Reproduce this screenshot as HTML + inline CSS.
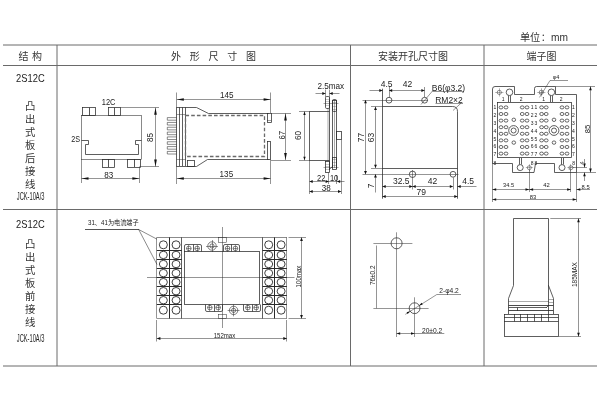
<!DOCTYPE html>
<html lang="zh-CN">
<head>
<meta charset="utf-8">
<title>2S12C 外形尺寸图</title>
<style>
html,body{margin:0;padding:0;background:#fff;}
body{width:600px;height:400px;overflow:hidden;}
svg{display:block;filter:grayscale(1);}
text{font-family:"Liberation Sans","Noto Sans CJK SC",sans-serif;fill:#222;stroke:none;}
.cn text{fill:#333;}
.lt text{fill:#222;}
.dt text{fill:#222;}
.st text{fill:#1a1a1a;}
.ar{fill:#111;stroke:none;}
</style>
</head>
<body>
<svg width="600" height="400" viewBox="0 0 600 400">
<rect x="0" y="0" width="600" height="400" fill="#fff"/>
<g stroke="#6a6a6a" stroke-width="1" fill="none">
<line x1="3" y1="45" x2="597" y2="45"/>
<line x1="3" y1="65.5" x2="597" y2="65.5"/>
<line x1="3" y1="209.5" x2="597" y2="209.5"/>
<line x1="3" y1="366" x2="597" y2="366"/>
<line x1="57" y1="45" x2="57" y2="366"/>
<line x1="350.5" y1="45" x2="350.5" y2="366"/>
<line x1="484" y1="45" x2="484" y2="366"/>
</g>
<g class="cn">
<text x="519.9" y="41" font-size="10.2" text-anchor="start">单位<tspan dx="0.5">：mm</tspan></text>
<text x="18.4" y="59.8" font-size="10" text-anchor="start" letter-spacing="0.41">结 构</text>
<text x="171.1" y="59.8" font-size="10" text-anchor="start" letter-spacing="2.96">外 形 尺 寸 图</text>
<text x="413" y="59.8" font-size="10" text-anchor="middle">安装开孔尺寸图</text>
<text x="541.6" y="59.8" font-size="10" text-anchor="middle">端子图</text>
<text x="30.3 30.3 30.3 30.3 30.3 30.3 30.3" y="110 122.93 135.86 148.79 161.72 174.65 187.58" font-size="10.4" text-anchor="middle">凸出式板后接线</text>
<text x="30.3 30.3 30.3 30.3 30.3 30.3 30.3" y="248 260.95 273.9 286.85 299.8 312.75 325.7" font-size="10.4" text-anchor="middle">凸出式板前接线</text>
</g>
<g class="lt">
<text x="30.4" y="81.9" font-size="10.7" text-anchor="middle" textLength="28.6" lengthAdjust="spacingAndGlyphs">2S12C</text>
<text x="30.4" y="227.6" font-size="10.7" text-anchor="middle" textLength="28.6" lengthAdjust="spacingAndGlyphs">2S12C</text>
<text x="30.6" y="199.7" font-size="10.5" text-anchor="middle" textLength="27.6" lengthAdjust="spacingAndGlyphs">JCK-10A/3</text>
<text x="30.6" y="342.4" font-size="10.5" text-anchor="middle" textLength="27.6" lengthAdjust="spacingAndGlyphs">JCK-10A/3</text>
</g>
<g stroke="#2a2a2a" stroke-width="0.75" fill="none">
<rect x="81.5" y="115.5" width="60" height="44" stroke-width="0.55"/>
<rect x="82.5" y="107.5" width="13" height="8"/>
<line x1="89.5" y1="107.7" x2="89.5" y2="115.5" stroke-width="0.8"/>
<rect x="108.5" y="107.5" width="12" height="8"/>
<line x1="114.5" y1="107.7" x2="114.5" y2="115.5" stroke-width="0.8"/>
<rect x="102.5" y="159.5" width="12" height="8"/>
<line x1="108.5" y1="159" x2="108.5" y2="167" stroke-width="0.8"/>
<rect x="127.5" y="159.5" width="13" height="8"/>
<line x1="134.5" y1="159" x2="134.5" y2="167" stroke-width="0.8"/>
<path d="M81.5 140.5 L88.5 140.5 L88.5 144.5 L85.5 144.5 L85.5 154.5 L138.5 154.5 L138.5 144.5 L135.5 144.5 L135.5 140.5 L141.5 140.5"/>
<line x1="81.5" y1="159" x2="81.5" y2="183" stroke-width="0.5"/>
<line x1="139.5" y1="167" x2="139.5" y2="183" stroke-width="0.5"/>
<line x1="81.5" y1="178.5" x2="139.4" y2="178.5" stroke-width="0.5"/>
<polygon class="ar" points="81.5,178.5 88.5,177.15 88.5,179.85"/>
<polygon class="ar" points="139.4,178.5 132.4,179.85 132.4,177.15"/>
<line x1="120.5" y1="107.5" x2="159" y2="107.5" stroke-width="0.5"/>
<line x1="139.4" y1="166.5" x2="159" y2="166.5" stroke-width="0.5"/>
<line x1="155.5" y1="107.7" x2="155.5" y2="166.5" stroke-width="0.5"/>
<polygon class="ar" points="155.5,107.7 156.85,114.7 154.15,114.7"/>
<polygon class="ar" points="155.5,166.5 154.15,159.5 156.85,159.5"/>
<path d="M268.5 113.5 L208.5 113.5 L196.5 107.5 L176.5 107.5 L176.5 166.5 L196.5 166.5 L207.5 159.5 L268.5 159.5"/>
<line x1="179.5" y1="107.4" x2="179.5" y2="166"/>
<line x1="182.5" y1="107.4" x2="182.5" y2="166"/>
<line x1="185.5" y1="107.4" x2="185.5" y2="166"/>
<path d="M176.5 117.6 L167.3 117.6 L167.3 120.2 L176.5 120.2" stroke-width="0.55"/>
<path d="M176.5 122.43 L167.3 122.43 L167.3 125.03 L176.5 125.03" stroke-width="0.55"/>
<path d="M176.5 127.26 L167.3 127.26 L167.3 129.86 L176.5 129.86" stroke-width="0.55"/>
<path d="M176.5 132.09 L167.3 132.09 L167.3 134.69 L176.5 134.69" stroke-width="0.55"/>
<path d="M176.5 136.92 L167.3 136.92 L167.3 139.52 L176.5 139.52" stroke-width="0.55"/>
<path d="M176.5 141.75 L167.3 141.75 L167.3 144.35 L176.5 144.35" stroke-width="0.55"/>
<path d="M176.5 146.58 L167.3 146.58 L167.3 149.18 L176.5 149.18" stroke-width="0.55"/>
<path d="M176.5 151.41 L167.3 151.41 L167.3 154.01 L176.5 154.01" stroke-width="0.55"/>
<line x1="176.8" y1="114.5" x2="185.6" y2="114.5" stroke-width="0.45"/>
<line x1="176.8" y1="159.5" x2="185.6" y2="159.5" stroke-width="0.45"/>
<rect x="185.5" y="115.5" width="79" height="41" stroke-width="1.3" stroke-dasharray="3.6 2.1" stroke="#6a6a6a"/>
<rect x="267.5" y="113.5" width="4" height="9"/>
<line x1="267" y1="120.5" x2="271" y2="120.5" stroke-width="0.45"/>
<rect x="267.5" y="141.5" width="3" height="18"/>
<rect x="187.5" y="160.5" width="7" height="6"/>
<line x1="176.5" y1="92.5" x2="176.5" y2="108" stroke-width="0.5"/>
<line x1="270.5" y1="92.5" x2="270.5" y2="113" stroke-width="0.5"/>
<line x1="176.8" y1="99.5" x2="270.6" y2="99.5" stroke-width="0.5"/>
<polygon class="ar" points="176.8,99.5 183.8,98.15 183.8,100.85"/>
<polygon class="ar" points="270.6,99.5 263.6,100.85 263.6,98.15"/>
<line x1="176.5" y1="166" x2="176.5" y2="184" stroke-width="0.5"/>
<line x1="270.5" y1="159" x2="270.5" y2="184" stroke-width="0.5"/>
<line x1="176.8" y1="178.5" x2="270.6" y2="178.5" stroke-width="0.5"/>
<polygon class="ar" points="176.8,178.5 183.8,177.15 183.8,179.85"/>
<polygon class="ar" points="270.6,178.5 263.6,179.85 263.6,177.15"/>
<line x1="271" y1="113.5" x2="291" y2="113.5" stroke-width="0.5"/>
<line x1="271" y1="160.5" x2="291" y2="160.5" stroke-width="0.5"/>
<line x1="285.5" y1="113.5" x2="285.5" y2="160" stroke-width="0.5"/>
<polygon class="ar" points="285.5,113.5 286.85,120.5 284.15,120.5"/>
<polygon class="ar" points="285.5,160 284.15,153 286.85,153"/>
<line x1="299" y1="111.5" x2="310" y2="111.5" stroke-width="0.5"/>
<line x1="299" y1="160.5" x2="310" y2="160.5" stroke-width="0.5"/>
<line x1="304.5" y1="111.5" x2="304.5" y2="160.3" stroke-width="0.5"/>
<polygon class="ar" points="304.5,111.5 305.7,115 303.3,115"/>
<polygon class="ar" points="304.5,160.3 303.3,156.8 305.7,156.8"/>
<path d="M329.5 111.5 L309.5 111.5 L309.5 160.5 L329.5 160.5"/>
<path d="M328 108 L328 161.5" stroke-width="0.4"/>
<line x1="329.5" y1="100" x2="329.5" y2="170"/>
<line x1="332.5" y1="100" x2="332.5" y2="168"/>
<line x1="334.5" y1="100" x2="334.5" y2="168" stroke-width="0.4"/>
<line x1="336.5" y1="100" x2="336.5" y2="169"/>
<line x1="332.5" y1="100.5" x2="336.3" y2="100.5"/>
<rect x="325.5" y="96.5" width="4" height="12" rx="1.2"/>
<rect x="332.5" y="99.5" width="4" height="12" rx="1.2"/>
<line x1="325.5" y1="99.5" x2="329.3" y2="99.5" stroke-width="0.25"/>
<line x1="325.5" y1="101.5" x2="329.3" y2="101.5" stroke-width="0.25"/>
<line x1="325.5" y1="105.5" x2="329.3" y2="105.5" stroke-width="0.25"/>
<line x1="332.5" y1="102.5" x2="336.6" y2="102.5" stroke-width="0.25"/>
<line x1="332.5" y1="106.5" x2="336.6" y2="106.5" stroke-width="0.25"/>
<line x1="332.5" y1="109.5" x2="336.6" y2="109.5" stroke-width="0.25"/>
<line x1="323.5" y1="103.5" x2="338.5" y2="103.5" stroke-width="0.4"/>
<rect x="336.5" y="131.5" width="5" height="8"/>
<rect x="325.5" y="161.5" width="4" height="11"/>
<rect x="332.5" y="157.5" width="4" height="12"/>
<line x1="325.5" y1="164.5" x2="329.3" y2="164.5" stroke-width="0.25"/>
<line x1="325.5" y1="166.5" x2="329.3" y2="166.5" stroke-width="0.25"/>
<line x1="325.5" y1="169.5" x2="329.3" y2="169.5" stroke-width="0.25"/>
<line x1="332.5" y1="159.5" x2="336.6" y2="159.5" stroke-width="0.25"/>
<line x1="332.5" y1="162.5" x2="336.6" y2="162.5" stroke-width="0.25"/>
<line x1="332.5" y1="165.5" x2="336.6" y2="165.5" stroke-width="0.25"/>
<line x1="323.5" y1="167.5" x2="338.5" y2="167.5" stroke-width="0.4"/>
<line x1="329.3" y1="169.3" x2="332.5" y2="166.5"/>
<line x1="325.5" y1="89.5" x2="325.5" y2="97" stroke-width="0.5"/>
<line x1="329.5" y1="89.5" x2="329.5" y2="100" stroke-width="0.5"/>
<line x1="315.5" y1="93.5" x2="325.5" y2="93.5" stroke-width="0.5"/>
<polygon class="ar" points="325.5,93.5 322.3,94.9 322.3,92.1"/>
<line x1="329.5" y1="93.5" x2="339.5" y2="93.5" stroke-width="0.5"/>
<polygon class="ar" points="329.5,93.5 332.7,92.1 332.7,94.9"/>
<line x1="309.5" y1="160" x2="309.5" y2="194" stroke-width="0.5"/>
<line x1="328.5" y1="172.5" x2="328.5" y2="184" stroke-width="0.5"/>
<line x1="336.5" y1="175" x2="336.5" y2="184" stroke-width="0.5"/>
<line x1="341.5" y1="139" x2="341.5" y2="194" stroke-width="0.5"/>
<line x1="309.5" y1="181.5" x2="328.8" y2="181.5" stroke-width="0.5"/>
<polygon class="ar" points="309.5,181.5 312.7,180.1 312.7,182.9"/>
<polygon class="ar" points="328.8,181.5 325.6,182.9 325.6,180.1"/>
<line x1="329" y1="181.5" x2="344.5" y2="181.5" stroke-width="0.5"/>
<polygon class="ar" points="337,181.5 340.2,180.1 340.2,182.9"/>
<line x1="309.5" y1="191.5" x2="341.2" y2="191.5" stroke-width="0.5"/>
<polygon class="ar" points="309.5,191.5 312.7,190.1 312.7,192.9"/>
<polygon class="ar" points="341.2,191.5 338,192.9 338,190.1"/>
<path d="M382.5 88.7 L382.5 198.7 M382.5 106.5 L452.5 106.5 Q457.5 106.5 457.5 111.5 L457.5 198.7 M382.5 168.5 L457.5 168.5"/>
<circle cx="389" cy="100.2" r="2.9"/>
<circle cx="424.6" cy="100.2" r="2.9"/>
<line x1="362.5" y1="100.5" x2="428" y2="100.5" stroke-width="0.5"/>
<circle cx="412.5" cy="174.3" r="3.2"/>
<circle cx="453" cy="174.3" r="2.9"/>
<line x1="362.5" y1="174.5" x2="458.5" y2="174.5" stroke-width="0.5"/>
<line x1="389.5" y1="87" x2="389.5" y2="97.3" stroke-width="0.5"/>
<line x1="424.5" y1="87" x2="424.5" y2="97.3" stroke-width="0.5"/>
<line x1="369.5" y1="90.5" x2="382.5" y2="90.5" stroke-width="0.5"/>
<polygon class="ar" points="382.5,90.5 379.3,91.95 379.3,89.05"/>
<line x1="389" y1="90.5" x2="424.6" y2="90.5" stroke-width="0.5"/>
<polygon class="ar" points="389,90.5 392.2,89.05 392.2,91.95"/>
<polygon class="ar" points="424.6,90.5 421.4,91.95 421.4,89.05"/>
<line x1="432.5" y1="91.5" x2="464" y2="91.5" stroke-width="0.5"/>
<line x1="432.5" y1="91" x2="421" y2="104.5" stroke-width="0.5"/>
<line x1="435.5" y1="103.5" x2="463" y2="103.5" stroke-width="0.5"/>
<line x1="461" y1="103.2" x2="453" y2="110.5" stroke-width="0.5"/>
<line x1="365.5" y1="100" x2="365.5" y2="174.2" stroke-width="0.5"/>
<polygon class="ar" points="365.5,100 366.95,103.2 364.05,103.2"/>
<polygon class="ar" points="365.5,174.2 364.05,171 366.95,171"/>
<line x1="371" y1="106.5" x2="382.5" y2="106.5" stroke-width="0.5"/>
<line x1="371" y1="168.5" x2="382.5" y2="168.5" stroke-width="0.5"/>
<line x1="375.5" y1="106.7" x2="375.5" y2="168" stroke-width="0.5"/>
<polygon class="ar" points="375.5,106.7 376.95,109.9 374.05,109.9"/>
<polygon class="ar" points="375.5,168 374.05,164.8 376.95,164.8"/>
<line x1="375.5" y1="174.2" x2="375.5" y2="192.5" stroke-width="0.5"/>
<polygon class="ar" points="375.5,174.2 376.95,177.4 374.05,177.4"/>
<line x1="412.5" y1="170" x2="412.5" y2="189.5" stroke-width="0.5"/>
<line x1="453.5" y1="177.5" x2="453.5" y2="189.5" stroke-width="0.5"/>
<line x1="382.5" y1="186.5" x2="412.5" y2="186.5" stroke-width="0.5"/>
<polygon class="ar" points="382.5,186.5 385.7,185.05 385.7,187.95"/>
<polygon class="ar" points="412.5,186.5 409.3,187.95 409.3,185.05"/>
<line x1="412.5" y1="186.5" x2="453" y2="186.5" stroke-width="0.5"/>
<polygon class="ar" points="412.5,186.5 415.7,185.05 415.7,187.95"/>
<polygon class="ar" points="453,186.5 449.8,187.95 449.8,185.05"/>
<line x1="457.5" y1="186.5" x2="476.5" y2="186.5" stroke-width="0.5"/>
<polygon class="ar" points="457.5,186.5 460.7,185.05 460.7,187.95"/>
<line x1="382.5" y1="196.5" x2="457.5" y2="196.5" stroke-width="0.5"/>
<polygon class="ar" points="382.5,196.5 385.7,195.05 385.7,197.95"/>
<polygon class="ar" points="457.5,196.5 454.3,197.95 454.3,195.05"/>
<path d="M492.5 163.5 L492.5 89 Q492.5 86.5 495 86.5 L514.5 86.5 L514.5 94.5 L534.5 94.5 L534.5 88.5 Q534.5 86.5 536.5 86.5 L555.5 86.5 L555.5 94.5 L576.5 94.5 L576.5 172.5 L554.5 172.5 L554.5 163.5 L535.5 163.5 L534 172.5 L512.5 172.5 L512.5 163.5 Z"/>
<rect x="497.5" y="102.5" width="74" height="55"/>
<circle cx="499.3" cy="92.4" r="2.1" stroke-width="0.5"/>
<line x1="495.2" y1="92.5" x2="503.4" y2="92.5" stroke-width="0.35"/>
<line x1="499.5" y1="88.3" x2="499.5" y2="96.5" stroke-width="0.35"/>
<circle cx="509.5" cy="92.3" r="3.3"/>
<line x1="508.5" y1="95.6" x2="508.5" y2="102"/>
<line x1="510.5" y1="95.6" x2="510.5" y2="102"/>
<circle cx="541.3" cy="92.3" r="2.1" stroke-width="0.5"/>
<line x1="537.2" y1="92.5" x2="545.4" y2="92.5" stroke-width="0.35"/>
<line x1="541.5" y1="88.2" x2="541.5" y2="96.4" stroke-width="0.35"/>
<line x1="539.2" y1="94.4" x2="543.4" y2="90.2" stroke-width="0.35"/>
<circle cx="551.4" cy="92.3" r="3.3"/>
<line x1="550.5" y1="95.6" x2="550.5" y2="102"/>
<line x1="552.5" y1="95.6" x2="552.5" y2="102"/>
<line x1="550" y1="80.5" x2="568" y2="80.5" stroke-width="0.5"/>
<line x1="550" y1="80.5" x2="539.5" y2="97.4" stroke-width="0.5"/>
<ellipse cx="501" cy="107.4" rx="1.9" ry="1.55" stroke-width="0.7"/>
<ellipse cx="506" cy="107.4" rx="1.9" ry="1.55" stroke-width="0.7"/>
<ellipse cx="522.2" cy="107.4" rx="1.9" ry="1.55" stroke-width="0.7"/>
<ellipse cx="527" cy="107.4" rx="1.9" ry="1.55" stroke-width="0.7"/>
<ellipse cx="541.6" cy="107.4" rx="1.9" ry="1.55" stroke-width="0.7"/>
<ellipse cx="546.2" cy="107.4" rx="1.9" ry="1.55" stroke-width="0.7"/>
<ellipse cx="562" cy="107.4" rx="1.9" ry="1.55" stroke-width="0.7"/>
<ellipse cx="567" cy="107.4" rx="1.9" ry="1.55" stroke-width="0.7"/>
<ellipse cx="501" cy="114" rx="1.9" ry="1.55" stroke-width="0.7"/>
<ellipse cx="506" cy="114" rx="1.9" ry="1.55" stroke-width="0.7"/>
<ellipse cx="522.2" cy="114" rx="1.9" ry="1.55" stroke-width="0.7"/>
<ellipse cx="527" cy="114" rx="1.9" ry="1.55" stroke-width="0.7"/>
<ellipse cx="541.6" cy="114" rx="1.9" ry="1.55" stroke-width="0.7"/>
<ellipse cx="546.2" cy="114" rx="1.9" ry="1.55" stroke-width="0.7"/>
<ellipse cx="562" cy="114" rx="1.9" ry="1.55" stroke-width="0.7"/>
<ellipse cx="567" cy="114" rx="1.9" ry="1.55" stroke-width="0.7"/>
<ellipse cx="501" cy="120.6" rx="1.9" ry="1.55" stroke-width="0.7"/>
<ellipse cx="506" cy="120.6" rx="1.9" ry="1.55" stroke-width="0.7"/>
<ellipse cx="522.2" cy="120.6" rx="1.9" ry="1.55" stroke-width="0.7"/>
<ellipse cx="527" cy="120.6" rx="1.9" ry="1.55" stroke-width="0.7"/>
<ellipse cx="541.6" cy="120.6" rx="1.9" ry="1.55" stroke-width="0.7"/>
<ellipse cx="546.2" cy="120.6" rx="1.9" ry="1.55" stroke-width="0.7"/>
<ellipse cx="562" cy="120.6" rx="1.9" ry="1.55" stroke-width="0.7"/>
<ellipse cx="567" cy="120.6" rx="1.9" ry="1.55" stroke-width="0.7"/>
<ellipse cx="501" cy="127.2" rx="1.9" ry="1.55" stroke-width="0.7"/>
<ellipse cx="506" cy="127.2" rx="1.9" ry="1.55" stroke-width="0.7"/>
<ellipse cx="522.2" cy="127.2" rx="1.9" ry="1.55" stroke-width="0.7"/>
<ellipse cx="527" cy="127.2" rx="1.9" ry="1.55" stroke-width="0.7"/>
<ellipse cx="541.6" cy="127.2" rx="1.9" ry="1.55" stroke-width="0.7"/>
<ellipse cx="546.2" cy="127.2" rx="1.9" ry="1.55" stroke-width="0.7"/>
<ellipse cx="562" cy="127.2" rx="1.9" ry="1.55" stroke-width="0.7"/>
<ellipse cx="567" cy="127.2" rx="1.9" ry="1.55" stroke-width="0.7"/>
<ellipse cx="501" cy="133.8" rx="1.9" ry="1.55" stroke-width="0.7"/>
<ellipse cx="506" cy="133.8" rx="1.9" ry="1.55" stroke-width="0.7"/>
<ellipse cx="522.2" cy="133.8" rx="1.9" ry="1.55" stroke-width="0.7"/>
<ellipse cx="527" cy="133.8" rx="1.9" ry="1.55" stroke-width="0.7"/>
<ellipse cx="541.6" cy="133.8" rx="1.9" ry="1.55" stroke-width="0.7"/>
<ellipse cx="546.2" cy="133.8" rx="1.9" ry="1.55" stroke-width="0.7"/>
<ellipse cx="562" cy="133.8" rx="1.9" ry="1.55" stroke-width="0.7"/>
<ellipse cx="567" cy="133.8" rx="1.9" ry="1.55" stroke-width="0.7"/>
<ellipse cx="501" cy="140.4" rx="1.9" ry="1.55" stroke-width="0.7"/>
<ellipse cx="506" cy="140.4" rx="1.9" ry="1.55" stroke-width="0.7"/>
<ellipse cx="522.2" cy="140.4" rx="1.9" ry="1.55" stroke-width="0.7"/>
<ellipse cx="527" cy="140.4" rx="1.9" ry="1.55" stroke-width="0.7"/>
<ellipse cx="541.6" cy="140.4" rx="1.9" ry="1.55" stroke-width="0.7"/>
<ellipse cx="546.2" cy="140.4" rx="1.9" ry="1.55" stroke-width="0.7"/>
<ellipse cx="562" cy="140.4" rx="1.9" ry="1.55" stroke-width="0.7"/>
<ellipse cx="567" cy="140.4" rx="1.9" ry="1.55" stroke-width="0.7"/>
<ellipse cx="501" cy="147" rx="1.9" ry="1.55" stroke-width="0.7"/>
<ellipse cx="506" cy="147" rx="1.9" ry="1.55" stroke-width="0.7"/>
<ellipse cx="522.2" cy="147" rx="1.9" ry="1.55" stroke-width="0.7"/>
<ellipse cx="527" cy="147" rx="1.9" ry="1.55" stroke-width="0.7"/>
<ellipse cx="541.6" cy="147" rx="1.9" ry="1.55" stroke-width="0.7"/>
<ellipse cx="546.2" cy="147" rx="1.9" ry="1.55" stroke-width="0.7"/>
<ellipse cx="562" cy="147" rx="1.9" ry="1.55" stroke-width="0.7"/>
<ellipse cx="567" cy="147" rx="1.9" ry="1.55" stroke-width="0.7"/>
<ellipse cx="501" cy="153.6" rx="1.9" ry="1.55" stroke-width="0.7"/>
<ellipse cx="506" cy="153.6" rx="1.9" ry="1.55" stroke-width="0.7"/>
<ellipse cx="522.2" cy="153.6" rx="1.9" ry="1.55" stroke-width="0.7"/>
<ellipse cx="527" cy="153.6" rx="1.9" ry="1.55" stroke-width="0.7"/>
<ellipse cx="541.6" cy="153.6" rx="1.9" ry="1.55" stroke-width="0.7"/>
<ellipse cx="546.2" cy="153.6" rx="1.9" ry="1.55" stroke-width="0.7"/>
<ellipse cx="562" cy="153.6" rx="1.9" ry="1.55" stroke-width="0.7"/>
<ellipse cx="567" cy="153.6" rx="1.9" ry="1.55" stroke-width="0.7"/>
<ellipse cx="513.8" cy="119.8" rx="1.8" ry="1.7" stroke-width="0.7"/>
<ellipse cx="554" cy="119.8" rx="1.8" ry="1.7" stroke-width="0.7"/>
<ellipse cx="513.8" cy="142.6" rx="1.8" ry="1.7" stroke-width="0.7"/>
<ellipse cx="554" cy="142.6" rx="1.8" ry="1.7" stroke-width="0.7"/>
<circle cx="513.6" cy="130.5" r="4.9"/>
<circle cx="513.6" cy="130.5" r="2.5"/>
<circle cx="554" cy="130.5" r="4.9"/>
<circle cx="554" cy="130.5" r="2.5"/>
<line x1="519.5" y1="158" x2="519.5" y2="164.5"/>
<line x1="521.5" y1="158" x2="521.5" y2="164.5"/>
<circle cx="520.2" cy="167.6" r="3"/>
<line x1="561.5" y1="158" x2="561.5" y2="164.5"/>
<line x1="563.5" y1="158" x2="563.5" y2="164.5"/>
<circle cx="562" cy="167.6" r="3"/>
<circle cx="529.3" cy="167.7" r="2" stroke-width="0.5"/>
<line x1="525.8" y1="167.5" x2="532.8" y2="167.5" stroke-width="0.35"/>
<line x1="529.5" y1="164.2" x2="529.5" y2="171.2" stroke-width="0.35"/>
<circle cx="570.9" cy="167.7" r="2" stroke-width="0.5"/>
<line x1="567.4" y1="167.5" x2="574.4" y2="167.5" stroke-width="0.35"/>
<line x1="570.5" y1="164.2" x2="570.5" y2="171.2" stroke-width="0.35"/>
<line x1="568.9" y1="169.7" x2="572.9" y2="165.7" stroke-width="0.35"/>
<line x1="555.5" y1="86.5" x2="595" y2="86.5" stroke-width="0.5"/>
<line x1="590.5" y1="86.5" x2="590.5" y2="172.4" stroke-width="0.5"/>
<polygon class="ar" points="590.5,86.5 591.8,90.3 589.2,90.3"/>
<polygon class="ar" points="590.5,172.4 589.2,168.6 591.8,168.6"/>
<line x1="573" y1="167.5" x2="587" y2="167.5" stroke-width="0.5"/>
<line x1="576.5" y1="172.5" x2="596" y2="172.5" stroke-width="0.5"/>
<line x1="584.5" y1="159" x2="584.5" y2="167.4" stroke-width="0.5"/>
<polygon class="ar" points="584.5,167.4 583.2,163.6 585.8,163.6"/>
<line x1="584.5" y1="172.4" x2="584.5" y2="181" stroke-width="0.5"/>
<polygon class="ar" points="584.5,172.4 585.8,176.2 583.2,176.2"/>
<line x1="492.5" y1="163" x2="492.5" y2="202" stroke-width="0.5"/>
<line x1="529.5" y1="170" x2="529.5" y2="192" stroke-width="0.5"/>
<line x1="570.5" y1="170" x2="570.5" y2="192" stroke-width="0.5"/>
<line x1="576.5" y1="172.4" x2="576.5" y2="202" stroke-width="0.5"/>
<line x1="492.4" y1="189.5" x2="529.3" y2="189.5" stroke-width="0.5"/>
<polygon class="ar" points="492.4,189.5 496.2,188.2 496.2,190.8"/>
<polygon class="ar" points="529.3,189.5 525.5,190.8 525.5,188.2"/>
<line x1="529.3" y1="189.5" x2="570.9" y2="189.5" stroke-width="0.5"/>
<polygon class="ar" points="529.3,189.5 533.1,188.2 533.1,190.8"/>
<polygon class="ar" points="570.9,189.5 567.1,190.8 567.1,188.2"/>
<line x1="576.5" y1="189.5" x2="590" y2="189.5" stroke-width="0.5"/>
<polygon class="ar" points="576.5,189.5 580.3,188.2 580.3,190.8"/>
<line x1="492.4" y1="199.5" x2="576.5" y2="199.5" stroke-width="0.5"/>
<polygon class="ar" points="492.4,199.5 496.2,198.2 496.2,200.8"/>
<polygon class="ar" points="576.5,199.5 572.7,200.8 572.7,198.2"/>
<line x1="85" y1="229.5" x2="139" y2="229.5" stroke-width="0.8"/>
<line x1="138.7" y1="229.5" x2="157" y2="239.2" stroke-width="0.55"/>
<line x1="138.7" y1="229.5" x2="157" y2="264.5" stroke-width="0.55"/>
<line x1="156.8" y1="237.5" x2="286.9" y2="237.5" stroke-width="0.55"/>
<line x1="156.8" y1="318.5" x2="286.9" y2="318.5" stroke-width="0.5"/>
<line x1="156.5" y1="237.4" x2="156.5" y2="318.5" stroke-width="0.5"/>
<line x1="169.5" y1="237.4" x2="169.5" y2="318.5" stroke-width="1"/>
<line x1="181.5" y1="237.4" x2="181.5" y2="318.5" stroke-width="0.75"/>
<line x1="156.8" y1="250.5" x2="181.8" y2="250.5" stroke-width="1"/>
<line x1="156.8" y1="259.5" x2="181.8" y2="259.5" stroke-width="1"/>
<line x1="156.8" y1="268.5" x2="181.8" y2="268.5" stroke-width="1"/>
<line x1="156.8" y1="277.5" x2="181.8" y2="277.5" stroke-width="1"/>
<line x1="156.8" y1="286.5" x2="181.8" y2="286.5" stroke-width="1"/>
<line x1="156.8" y1="295.5" x2="181.8" y2="295.5" stroke-width="1"/>
<line x1="156.8" y1="304.5" x2="181.8" y2="304.5" stroke-width="1"/>
<circle cx="163.35" cy="244.8" r="4" stroke-width="0.9"/>
<circle cx="176.05" cy="244.8" r="4" stroke-width="0.9"/>
<ellipse cx="163.35" cy="254.95" rx="4" ry="3.7" stroke-width="0.9"/>
<ellipse cx="176.05" cy="254.95" rx="4" ry="3.7" stroke-width="0.9"/>
<ellipse cx="163.35" cy="264.05" rx="4" ry="3.7" stroke-width="0.9"/>
<ellipse cx="176.05" cy="264.05" rx="4" ry="3.7" stroke-width="0.9"/>
<ellipse cx="163.35" cy="273.1" rx="4" ry="3.7" stroke-width="0.9"/>
<ellipse cx="176.05" cy="273.1" rx="4" ry="3.7" stroke-width="0.9"/>
<ellipse cx="163.35" cy="282.15" rx="4" ry="3.7" stroke-width="0.9"/>
<ellipse cx="176.05" cy="282.15" rx="4" ry="3.7" stroke-width="0.9"/>
<ellipse cx="163.35" cy="291.2" rx="4" ry="3.7" stroke-width="0.9"/>
<ellipse cx="176.05" cy="291.2" rx="4" ry="3.7" stroke-width="0.9"/>
<ellipse cx="163.35" cy="300.2" rx="4" ry="3.7" stroke-width="0.9"/>
<ellipse cx="176.05" cy="300.2" rx="4" ry="3.7" stroke-width="0.9"/>
<circle cx="163.35" cy="310.2" r="4" stroke-width="0.9"/>
<circle cx="176.05" cy="310.2" r="4" stroke-width="0.9"/>
<line x1="262.5" y1="237.4" x2="262.5" y2="318.5" stroke-width="0.75"/>
<line x1="274.5" y1="237.4" x2="274.5" y2="318.5" stroke-width="1"/>
<line x1="286.5" y1="237.4" x2="286.5" y2="318.5" stroke-width="0.5"/>
<line x1="262.5" y1="250.5" x2="286.9" y2="250.5" stroke-width="1"/>
<line x1="262.5" y1="259.5" x2="286.9" y2="259.5" stroke-width="1"/>
<line x1="262.5" y1="268.5" x2="286.9" y2="268.5" stroke-width="1"/>
<line x1="262.5" y1="277.5" x2="286.9" y2="277.5" stroke-width="1"/>
<line x1="262.5" y1="286.5" x2="286.9" y2="286.5" stroke-width="1"/>
<line x1="262.5" y1="295.5" x2="286.9" y2="295.5" stroke-width="1"/>
<line x1="262.5" y1="304.5" x2="286.9" y2="304.5" stroke-width="1"/>
<circle cx="268.7" cy="244.8" r="4" stroke-width="0.9"/>
<circle cx="281.1" cy="244.8" r="4" stroke-width="0.9"/>
<ellipse cx="268.7" cy="254.95" rx="4" ry="3.7" stroke-width="0.9"/>
<ellipse cx="281.1" cy="254.95" rx="4" ry="3.7" stroke-width="0.9"/>
<ellipse cx="268.7" cy="264.05" rx="4" ry="3.7" stroke-width="0.9"/>
<ellipse cx="281.1" cy="264.05" rx="4" ry="3.7" stroke-width="0.9"/>
<ellipse cx="268.7" cy="273.1" rx="4" ry="3.7" stroke-width="0.9"/>
<ellipse cx="281.1" cy="273.1" rx="4" ry="3.7" stroke-width="0.9"/>
<ellipse cx="268.7" cy="282.15" rx="4" ry="3.7" stroke-width="0.9"/>
<ellipse cx="281.1" cy="282.15" rx="4" ry="3.7" stroke-width="0.9"/>
<ellipse cx="268.7" cy="291.2" rx="4" ry="3.7" stroke-width="0.9"/>
<ellipse cx="281.1" cy="291.2" rx="4" ry="3.7" stroke-width="0.9"/>
<ellipse cx="268.7" cy="300.2" rx="4" ry="3.7" stroke-width="0.9"/>
<ellipse cx="281.1" cy="300.2" rx="4" ry="3.7" stroke-width="0.9"/>
<circle cx="268.7" cy="310.2" r="4" stroke-width="0.9"/>
<circle cx="281.1" cy="310.2" r="4" stroke-width="0.9"/>
<rect x="184.5" y="251.5" width="75" height="53"/>
<line x1="222.5" y1="227" x2="222.5" y2="328" stroke-width="0.5"/>
<line x1="147" y1="277.5" x2="294.5" y2="277.5" stroke-width="0.5"/>
<rect x="218.5" y="237.5" width="8" height="5" stroke-width="0.5"/>
<rect x="218.5" y="314.5" width="8" height="4" stroke-width="0.5"/>
<path d="M184.5 251.5 L184.5 246 Q184.5 244.5 186 244.5 L200 244.5 Q201.5 244.5 201.5 246 L201.5 251.5"/>
<line x1="193.5" y1="244.5" x2="193.5" y2="251.5"/>
<circle cx="188.85" cy="248.4" r="2.3" stroke-width="0.6"/>
<line x1="188.5" y1="245.3" x2="188.5" y2="251.5" stroke-width="0.5"/>
<line x1="186.55" y1="248.5" x2="191.15" y2="248.5" stroke-width="0.5"/>
<circle cx="197.15" cy="248.4" r="2.3" stroke-width="0.6"/>
<line x1="197.5" y1="245.3" x2="197.5" y2="251.5" stroke-width="0.5"/>
<line x1="194.85" y1="248.5" x2="199.45" y2="248.5" stroke-width="0.5"/>
<path d="M223.5 251.5 L223.5 246 Q223.5 244.5 225 244.5 L238 244.5 Q239.5 244.5 239.5 246 L239.5 251.5"/>
<line x1="231.5" y1="244.5" x2="231.5" y2="251.5"/>
<circle cx="227.6" cy="248.4" r="2.3" stroke-width="0.6"/>
<line x1="227.5" y1="245.3" x2="227.5" y2="251.5" stroke-width="0.5"/>
<line x1="225.3" y1="248.5" x2="229.9" y2="248.5" stroke-width="0.5"/>
<circle cx="235.4" cy="248.4" r="2.3" stroke-width="0.6"/>
<line x1="235.5" y1="245.3" x2="235.5" y2="251.5" stroke-width="0.5"/>
<line x1="233.1" y1="248.5" x2="237.7" y2="248.5" stroke-width="0.5"/>
<circle cx="212" cy="246" r="4.2" stroke-width="0.6"/>
<circle cx="212" cy="246" r="2.1" stroke-width="0.6"/>
<line x1="206" y1="246.5" x2="218" y2="246.5" stroke-width="0.5"/>
<line x1="212.5" y1="240" x2="212.5" y2="252" stroke-width="0.5"/>
<path d="M205.5 304.5 L205.5 310 Q205.5 311.5 207 311.5 L221 311.5 Q222.5 311.5 222.5 310 L222.5 304.5"/>
<line x1="214.5" y1="304.5" x2="214.5" y2="311.5"/>
<circle cx="209.85" cy="307.6" r="2.3" stroke-width="0.6"/>
<line x1="209.5" y1="304.5" x2="209.5" y2="310.7" stroke-width="0.5"/>
<line x1="207.55" y1="307.5" x2="212.15" y2="307.5" stroke-width="0.5"/>
<circle cx="218.15" cy="307.6" r="2.3" stroke-width="0.6"/>
<line x1="218.5" y1="304.5" x2="218.5" y2="310.7" stroke-width="0.5"/>
<line x1="215.85" y1="307.5" x2="220.45" y2="307.5" stroke-width="0.5"/>
<path d="M243.5 304.5 L243.5 310 Q243.5 311.5 245 311.5 L259 311.5 Q260.5 311.5 260.5 310 L260.5 304.5"/>
<line x1="252.5" y1="304.5" x2="252.5" y2="311.5"/>
<circle cx="247.85" cy="307.6" r="2.3" stroke-width="0.6"/>
<line x1="247.5" y1="304.5" x2="247.5" y2="310.7" stroke-width="0.5"/>
<line x1="245.55" y1="307.5" x2="250.15" y2="307.5" stroke-width="0.5"/>
<circle cx="256.15" cy="307.6" r="2.3" stroke-width="0.6"/>
<line x1="256.5" y1="304.5" x2="256.5" y2="310.7" stroke-width="0.5"/>
<line x1="253.85" y1="307.5" x2="258.45" y2="307.5" stroke-width="0.5"/>
<circle cx="233.6" cy="310.4" r="4.2" stroke-width="0.6"/>
<circle cx="233.6" cy="310.4" r="2.1" stroke-width="0.6"/>
<line x1="227.6" y1="310.5" x2="239.6" y2="310.5" stroke-width="0.5"/>
<line x1="233.5" y1="304.4" x2="233.5" y2="316.4" stroke-width="0.5"/>
<line x1="156.5" y1="320" x2="156.5" y2="341.5" stroke-width="0.5"/>
<line x1="286.5" y1="320" x2="286.5" y2="341.5" stroke-width="0.5"/>
<line x1="156.8" y1="338.5" x2="286.9" y2="338.5" stroke-width="0.5"/>
<polygon class="ar" points="156.8,338.5 160.4,337.1 160.4,339.9"/>
<polygon class="ar" points="286.9,338.5 283.3,339.9 283.3,337.1"/>
<line x1="288.5" y1="237.5" x2="306" y2="237.5" stroke-width="0.5"/>
<line x1="288.5" y1="318.5" x2="306" y2="318.5" stroke-width="0.5"/>
<line x1="301.5" y1="237.4" x2="301.5" y2="318.5" stroke-width="0.5"/>
<polygon class="ar" points="301.5,237.4 302.9,241 300.1,241"/>
<polygon class="ar" points="301.5,318.5 300.1,314.9 302.9,314.9"/>
<circle cx="396.6" cy="243.3" r="5.5"/>
<circle cx="414.6" cy="308.2" r="5.4"/>
<line x1="373.4" y1="243.5" x2="412.4" y2="243.5" stroke-width="0.5"/>
<line x1="396.5" y1="232.3" x2="396.5" y2="337" stroke-width="0.5"/>
<line x1="373.4" y1="308.5" x2="428.6" y2="308.5" stroke-width="0.5"/>
<line x1="414.5" y1="297.3" x2="414.5" y2="337" stroke-width="0.5"/>
<line x1="376.5" y1="245.5" x2="376.5" y2="308.3" stroke-width="0.5"/>
<line x1="396.6" y1="333.5" x2="444.3" y2="333.5" stroke-width="0.5"/>
<polygon class="ar" points="396.6,333.5 400.2,332.2 400.2,334.8"/>
<polygon class="ar" points="414.6,333.5 411,334.8 411,332.2"/>
<line x1="436.7" y1="294.5" x2="461" y2="294.5" stroke-width="0.5"/>
<line x1="436.7" y1="294.6" x2="405.3" y2="314.4" stroke-width="0.5"/>
<polygon class="ar" points="419.2,305.5 421.575,302.704 422.748,304.565"/>
<polygon class="ar" points="410.1,311.3 407.725,314.096 406.552,312.235"/>
<path d="M508.5 298.5 L513.5 285.5 L513.5 218.5 L548.5 218.5 L548.5 285.5 L553.5 298.5"/>
<line x1="508.5" y1="298.5" x2="508.5" y2="314"/>
<line x1="553.5" y1="298.5" x2="553.5" y2="314"/>
<line x1="548.5" y1="285" x2="548.5" y2="314"/>
<line x1="508.5" y1="301.5" x2="548.9" y2="301.5" stroke-width="0.4"/>
<line x1="508.5" y1="305.5" x2="553.3" y2="305.5" stroke-width="0.85"/>
<line x1="508.5" y1="307.5" x2="547" y2="307.5"/>
<line x1="508.5" y1="310.5" x2="553.3" y2="310.5" stroke-width="0.85"/>
<line x1="517.5" y1="307.6" x2="517.5" y2="310.8"/>
<line x1="548.9" y1="299.5" x2="553.3" y2="299.5" stroke-width="0.4"/>
<line x1="548.9" y1="302.5" x2="553.3" y2="302.5" stroke-width="0.4"/>
<line x1="546.4" y1="307.6" x2="548.9" y2="305"/>
<rect x="504.5" y="314.5" width="54" height="22"/>
<line x1="504" y1="317.5" x2="558.4" y2="317.5"/>
<line x1="504" y1="321.5" x2="558.4" y2="321.5"/>
<line x1="514.5" y1="314" x2="514.5" y2="321.5"/>
<line x1="520.5" y1="314" x2="520.5" y2="321.5"/>
<line x1="527.5" y1="314" x2="527.5" y2="321.5"/>
<line x1="534.5" y1="314" x2="534.5" y2="321.5"/>
<line x1="541.5" y1="314" x2="541.5" y2="321.5"/>
<line x1="548.5" y1="314" x2="548.5" y2="321.5"/>
<line x1="550.3" y1="218.5" x2="581" y2="218.5" stroke-width="0.5"/>
<line x1="558.4" y1="336.5" x2="581" y2="336.5" stroke-width="0.5"/>
<line x1="578.5" y1="218.5" x2="578.5" y2="336.5" stroke-width="0.5"/>
<polygon class="ar" points="578.5,218.5 579.85,222.3 577.15,222.3"/>
<polygon class="ar" points="578.5,336.5 577.15,332.7 579.85,332.7"/>
</g>
<g class="dt">
<text x="108.6" y="104.6" font-size="8.8" text-anchor="middle" textLength="13.7" lengthAdjust="spacingAndGlyphs">12C</text>
<text x="75.6" y="141.9" font-size="8.8" text-anchor="middle" textLength="8.8" lengthAdjust="spacingAndGlyphs">2S</text>
<text x="108.7" y="177.7" font-size="8.5" text-anchor="middle" textLength="9" lengthAdjust="spacingAndGlyphs">83</text>
<text x="152.7" y="137.5" font-size="8.5" text-anchor="middle" transform="rotate(-90 152.7 137.5)" textLength="9" lengthAdjust="spacingAndGlyphs">85</text>
<text x="226.7" y="98.4" font-size="8.8" text-anchor="middle" textLength="13.6" lengthAdjust="spacingAndGlyphs">145</text>
<text x="226.4" y="177.1" font-size="8.8" text-anchor="middle" textLength="13.6" lengthAdjust="spacingAndGlyphs">135</text>
<text x="284.7" y="135.2" font-size="8.5" text-anchor="middle" transform="rotate(-90 284.7 135.2)" textLength="8.6" lengthAdjust="spacingAndGlyphs">67</text>
<text x="300.8" y="135.5" font-size="8.5" text-anchor="middle" transform="rotate(-90 300.8 135.5)" textLength="9.2" lengthAdjust="spacingAndGlyphs">60</text>
<text x="330.8" y="88.8" font-size="8.6" text-anchor="middle" textLength="26.8" lengthAdjust="spacingAndGlyphs">2.5max</text>
<text x="321.2" y="180.5" font-size="8.4" text-anchor="middle" textLength="8.4" lengthAdjust="spacingAndGlyphs">22</text>
<text x="334.1" y="180.5" font-size="8.4" text-anchor="middle" textLength="8.4" lengthAdjust="spacingAndGlyphs">10</text>
<text x="326.2" y="190.8" font-size="8.4" text-anchor="middle" textLength="9" lengthAdjust="spacingAndGlyphs">38</text>
<text x="386.7" y="87.3" font-size="8.5" text-anchor="middle">4.5</text>
<text x="407.5" y="87.3" font-size="8.5" text-anchor="middle">42</text>
<text x="448.5" y="90.5" font-size="8.5" text-anchor="middle">B6(φ3.2)</text>
<text x="449" y="102.5" font-size="8.5" text-anchor="middle">RM2×2</text>
<text x="364" y="137.4" font-size="8.5" text-anchor="middle" transform="rotate(-90 364 137.4)">77</text>
<text x="374.3" y="137.5" font-size="8.5" text-anchor="middle" transform="rotate(-90 374.3 137.5)">63</text>
<text x="374.3" y="185.8" font-size="8.5" text-anchor="middle" transform="rotate(-90 374.3 185.8)">7</text>
<text x="401.2" y="184.3" font-size="8.5" text-anchor="middle">32.5</text>
<text x="432.5" y="184.3" font-size="8.5" text-anchor="middle">42</text>
<text x="468.2" y="184.3" font-size="8.5" text-anchor="middle">4.5</text>
<text x="421.2" y="195" font-size="8.5" text-anchor="middle">79</text>
</g>
<g class="st">
<text x="556" y="79" font-size="5.5" text-anchor="middle">φ4</text>
<text x="503.2" y="101.3" font-size="5" text-anchor="middle">1</text>
<text x="521.2" y="101.3" font-size="5" text-anchor="middle">2</text>
<text x="543.6" y="101.3" font-size="5" text-anchor="middle">1</text>
<text x="561.2" y="101.3" font-size="5" text-anchor="middle">2</text>
<text x="495" y="109.2" font-size="5" text-anchor="middle">1</text>
<text x="573.5" y="109.2" font-size="5" text-anchor="middle">1</text>
<text x="532.2" y="109.2" font-size="5" text-anchor="middle">1</text>
<text x="536" y="109.2" font-size="5" text-anchor="middle">1</text>
<text x="495" y="117.05" font-size="5" text-anchor="middle">2</text>
<text x="573.5" y="117.05" font-size="5" text-anchor="middle">2</text>
<text x="532.2" y="117.05" font-size="5" text-anchor="middle">2</text>
<text x="536" y="117.05" font-size="5" text-anchor="middle">2</text>
<text x="495" y="124.9" font-size="5" text-anchor="middle">3</text>
<text x="573.5" y="124.9" font-size="5" text-anchor="middle">3</text>
<text x="532.2" y="124.9" font-size="5" text-anchor="middle">3</text>
<text x="536" y="124.9" font-size="5" text-anchor="middle">3</text>
<text x="495" y="132.75" font-size="5" text-anchor="middle">4</text>
<text x="573.5" y="132.75" font-size="5" text-anchor="middle">4</text>
<text x="532.2" y="132.75" font-size="5" text-anchor="middle">4</text>
<text x="536" y="132.75" font-size="5" text-anchor="middle">4</text>
<text x="495" y="140.6" font-size="5" text-anchor="middle">5</text>
<text x="573.5" y="140.6" font-size="5" text-anchor="middle">5</text>
<text x="532.2" y="140.6" font-size="5" text-anchor="middle">5</text>
<text x="536" y="140.6" font-size="5" text-anchor="middle">5</text>
<text x="495" y="148.45" font-size="5" text-anchor="middle">6</text>
<text x="573.5" y="148.45" font-size="5" text-anchor="middle">6</text>
<text x="532.2" y="148.45" font-size="5" text-anchor="middle">6</text>
<text x="536" y="148.45" font-size="5" text-anchor="middle">6</text>
<text x="495" y="156.3" font-size="5" text-anchor="middle">7</text>
<text x="573.5" y="156.3" font-size="5" text-anchor="middle">7</text>
<text x="532.2" y="156.3" font-size="5" text-anchor="middle">7</text>
<text x="536" y="156.3" font-size="5" text-anchor="middle">7</text>
<text x="495" y="165" font-size="5" text-anchor="middle">8</text>
<text x="573.7" y="165" font-size="5" text-anchor="middle">8</text>
<text x="532.2" y="165.2" font-size="5" text-anchor="middle">8</text>
<text x="536" y="165.2" font-size="5" text-anchor="middle">8</text>
<text x="590.2" y="129" font-size="6.5" text-anchor="middle" transform="rotate(-90 590.2 129)" textLength="8.5" lengthAdjust="spacingAndGlyphs">85</text>
<text x="584" y="163" font-size="5.5" text-anchor="middle" transform="rotate(-90 584 163)">4</text>
<text x="508.6" y="187.2" font-size="5.8" text-anchor="middle" textLength="11" lengthAdjust="spacingAndGlyphs">34.5</text>
<text x="546.4" y="187.2" font-size="5.8" text-anchor="middle">42</text>
<text x="585.6" y="188.5" font-size="5.8" text-anchor="middle">8.5</text>
<text x="533" y="198.7" font-size="5.8" text-anchor="middle">83</text>
<text x="88" y="224.6" font-size="6.3" text-anchor="start" textLength="50.7" lengthAdjust="spacingAndGlyphs">31、41为电流端子</text>
<text x="224.5" y="337.9" font-size="6.6" text-anchor="middle" textLength="21.5" lengthAdjust="spacingAndGlyphs">152max</text>
<text x="300.5" y="276.5" font-size="6.6" text-anchor="middle" transform="rotate(-90 300.5 276.5)" textLength="21.9" lengthAdjust="spacingAndGlyphs">100max</text>
<text x="374.6" y="275.3" font-size="7.2" text-anchor="middle" transform="rotate(-90 374.6 275.3)" textLength="19.5" lengthAdjust="spacingAndGlyphs">76±0.2</text>
<text x="432.1" y="332.6" font-size="7.2" text-anchor="middle" textLength="20.3" lengthAdjust="spacingAndGlyphs">20±0.2</text>
<text x="449" y="292.8" font-size="7.2" text-anchor="middle" textLength="19.5" lengthAdjust="spacingAndGlyphs">2-φ4.2</text>
<text x="576.8" y="274.6" font-size="7" text-anchor="middle" transform="rotate(-90 576.8 274.6)" textLength="25" lengthAdjust="spacingAndGlyphs">185MAX</text>
</g>
</svg>
</body>
</html>
